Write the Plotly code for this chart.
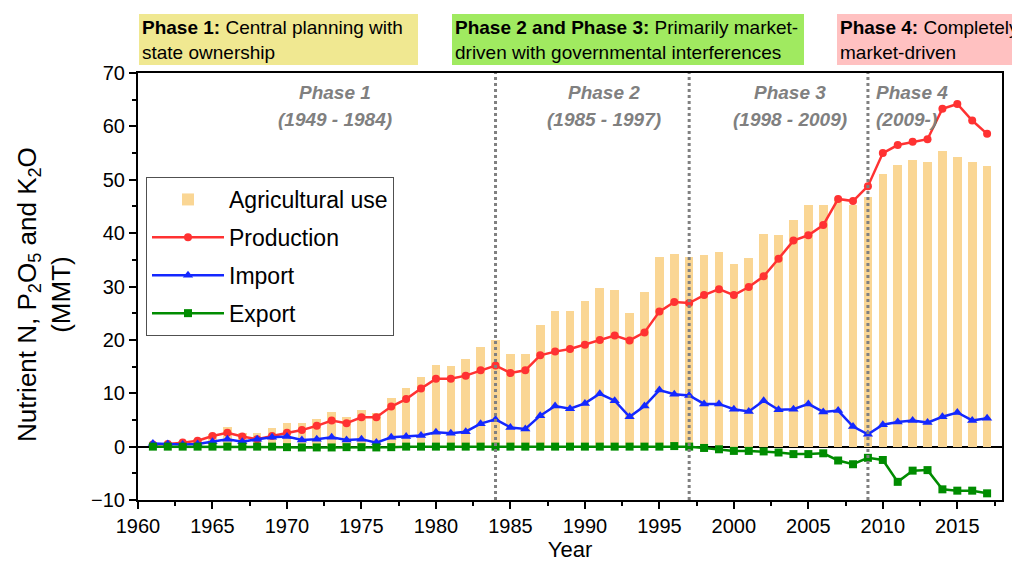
"""
Fertilizer nutrients in China: agricultural use, production, import and export.
"""
import plotly.graph_objects as go

anos = list(range(1961, 2018))

uso_agricola = [
    0.6, 0.7, 1.0, 1.5, 2.3, 3.7, 2.5, 2.6, 3.4, 4.4,
    4.5, 5.2, 6.4, 5.6, 6.8, 6.3, 9.1, 10.9, 13.1, 15.3,
    15.1, 16.4, 18.7, 20.0, 17.3, 17.4, 22.8, 25.4, 25.4, 27.3,
    29.8, 29.3, 25.1, 28.9, 35.6, 36.0, 35.6, 35.9, 36.4, 34.3,
    35.3, 39.8, 39.6, 42.5, 45.3, 45.3, 46.3, 45.2, 46.8, 51.1,
    52.8, 53.7, 53.4, 55.3, 54.2, 53.4, 52.6,
]
producao = [
    0.4, 0.5, 0.75, 1.1, 2.0, 2.6, 1.9, 1.4, 2.0, 2.6,
    3.1, 3.9, 4.9, 4.4, 5.5, 5.5, 7.5, 8.9, 10.9, 12.7,
    12.7, 13.3, 14.3, 15.2, 13.8, 14.3, 17.1, 17.8, 18.3, 19.1,
    20.0, 20.8, 19.9, 21.4, 25.3, 27.1, 26.9, 28.4, 29.5, 28.4,
    29.9, 31.9, 35.2, 38.6, 39.6, 41.5, 46.4, 46.0, 48.8, 55.0,
    56.5, 57.1, 57.6, 63.3, 64.2, 61.1, 58.6,
]
importacao = [
    0.6, 0.5, 0.4, 0.5, 0.9, 1.4, 0.9, 1.4, 1.75, 1.9,
    1.25, 1.4, 1.75, 1.25, 1.4, 0.75, 1.75, 1.9, 2.1, 2.7,
    2.5, 2.8, 4.3, 5.1, 3.6, 3.3, 5.8, 7.6, 7.1, 8.1,
    9.9, 8.6, 5.6, 7.6, 10.6, 9.8, 9.6, 8.0, 8.0, 7.0,
    6.6, 8.6, 6.9, 7.0, 8.0, 6.5, 6.75, 3.75, 2.3, 4.1,
    4.6, 4.9, 4.5, 5.6, 6.4, 4.9, 5.3,
]
exportacao = [
    0.0, 0.0, 0.0, 0.0, 0.0, 0.0, 0.0, 0.0, 0.0, -0.1,
    -0.15, -0.15, -0.15, -0.1, -0.1, -0.15, -0.1, 0.0, 0.0, 0.0,
    0.0, 0.0, 0.0, 0.0, 0.0, 0.0, 0.0, 0.0, 0.0, 0.0,
    0.0, 0.0, 0.0, 0.0, 0.0, 0.1, 0.0, -0.25, -0.5, -0.8,
    -0.8, -0.9, -1.1, -1.4, -1.4, -1.25, -2.6, -3.3, -2.1, -2.5,
    -6.6, -4.5, -4.4, -8.0, -8.25, -8.25, -8.75,
]

limites_fase = [1984, 1997, 2009]
rotulos_fase = [
    ("Phase 1", "(1949 - 1984)", 1973.2, "center"),
    ("Phase 2", "(1985 - 1997)", 1991.3, "center"),
    ("Phase 3", "(1998 - 2009)", 2003.8, "center"),
    ("Phase 4", "(2009-)", 2009.4, "left"),
]
caixas_fase = [
    ("<b>Phase 1:</b> Central planning with<br>state ownership", 135, 414, "rgb(240,232,145)"),
    ("<b>Phase 2 and Phase 3:</b> Primarily market-<br>driven with governmental interferences", 448, 800, "rgb(160,234,96)"),
    ("<b>Phase 4:</b> Completely<br>market-driven", 833, 1030, "rgb(255,193,193)"),
]

FONTE = "Arial, Liberation Sans, sans-serif"
# deslocamento da página no navegador (medido na imagem)
OFFX, OFFY = 4, 8
W, H = 1020 - OFFX, 564 - OFFY
L, T = 134 - OFFX, 73 - OFFY
R, B = W - (998 - OFFX), H - (500 - OFFY)
PW, PH = W - L - R, H - T - B


def px2paper_x(px):
    # px em coordenadas da imagem de referência
    return (px - OFFX - L) / PW


def px2paper_y(py):
    return (H - B - (py - OFFY)) / PH


fig = go.Figure()

fig.add_trace(go.Bar(
    x=anos, y=uso_agricola, name="Agricultural use",
    marker=dict(color="rgb(250,214,148)", line_width=0),
    width=0.58, legendgroup="a",
))
fig.add_trace(go.Scatter(
    x=anos, y=producao, name="Production", mode="lines+markers",
    line=dict(color="rgb(255,50,50)", width=2.5),
    marker=dict(symbol="circle", size=8), legendgroup="b",
))
fig.add_trace(go.Scatter(
    x=anos, y=importacao, name="Import", mode="lines+markers",
    line=dict(color="rgb(20,40,255)", width=2.5),
    marker=dict(symbol="triangle-up", size=9), legendgroup="c",
))
fig.add_trace(go.Scatter(
    x=anos, y=exportacao, name="Export", mode="lines+markers",
    line=dict(color="rgb(0,140,0)", width=2.5),
    marker=dict(symbol="square", size=8), legendgroup="d",
))

# limites entre as fases
for ano in limites_fase:
    fig.add_shape(
        type="line", xref="x", yref="y", x0=ano, x1=ano, y0=-10, y1=70,
        line=dict(color="rgb(128,128,128)", width=3, dash="dot"), layer="above",
    )

for titulo, periodo, xc, alinh in rotulos_fase:
    for texto, yp in ((titulo, 92), (periodo, 119)):
        fig.add_annotation(
            x=xc, y=px2paper_y(yp), xref="x", yref="paper",
            text=f"<b><i>{texto}</i></b>", showarrow=False,
            xanchor=alinh, yanchor="middle",
            font=dict(family=FONTE, size=19, color="rgb(128,128,128)"),
        )

# caixas das fases acima do gráfico
for texto, x0, x1, cor in caixas_fase:
    fig.add_shape(
        type="rect", xref="paper", yref="paper",
        x0=px2paper_x(x0), x1=px2paper_x(x1),
        y0=px2paper_y(65), y1=px2paper_y(14),
        fillcolor=cor, line_width=0, layer="above",
    )
    fig.add_annotation(
        x=px2paper_x(x0 + 1), y=px2paper_y(40), xref="paper", yref="paper",
        text=texto, showarrow=False, xanchor="left", yanchor="middle", align="left",
        font=dict(family=FONTE, size=19, color="black"),
    )

# título do eixo y como anotação, para controlar a posição
fig.add_annotation(
    x=px2paper_x(40), y=px2paper_y(295), xref="paper", yref="paper",
    text="Nutrient N, P<sub>2</sub>O<sub>5</sub> and K<sub>2</sub>O<br>(MMT)",
    textangle=-90, showarrow=False, xanchor="center", yanchor="middle",
    font=dict(family=FONTE, size=26, color="black"),
)

eixo = dict(
    showline=True, linecolor="black", linewidth=2, mirror=True,
    ticks="outside", ticklen=7, tickwidth=2, tickcolor="black",
    showgrid=False, automargin=False,
    tickfont=dict(family=FONTE, size=20, color="black"),
)

fig.update_layout(
    width=W, height=H,
    margin=dict(l=L, r=R, t=T, b=B),
    plot_bgcolor="white", paper_bgcolor="white",
    font=dict(family=FONTE, color="black"),
    bargap=0,
    xaxis=dict(
        range=[1960, 2018], dtick=5, tick0=1960,
        minor=dict(dtick=2.5, ticks="outside", ticklen=4, tickcolor="black"),
        title=dict(text="Year", font=dict(size=22), standoff=4),
        **eixo,
    ),
    yaxis=dict(
        range=[-10, 70], dtick=10,
        minor=dict(dtick=5, ticks="outside", ticklen=4, tickcolor="black"),
        zeroline=True, zerolinecolor="black", zerolinewidth=2,
        **eixo,
    ),
    legend=dict(
        x=px2paper_x(142), y=px2paper_y(177), xanchor="left", yanchor="top",
        bgcolor="white", bordercolor="rgb(80,80,80)", borderwidth=1,
        font=dict(family=FONTE, size=23, color="black"),
        tracegroupgap=5, traceorder="grouped", itemwidth=72,
    ),
)

fig.write_html("out.html")
